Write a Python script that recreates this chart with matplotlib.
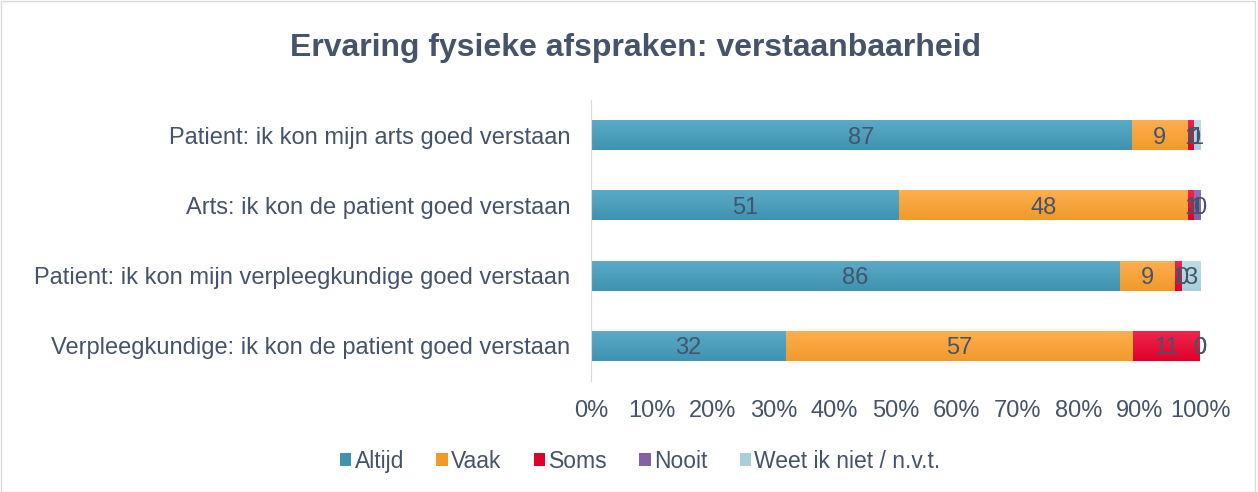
import matplotlib

matplotlib.use("Agg")
import matplotlib.pyplot as plt
import numpy as np
from matplotlib.colors import LinearSegmentedColormap
from matplotlib.patches import Patch

plt.rcParams["font.family"] = ["Liberation Sans", "DejaVu Sans"]

TITLE = "Ervaring fysieke afspraken: verstaanbaarheid"
CATEGORIES = [
    "Patient: ik kon mijn arts goed verstaan",
    "Arts: ik kon de patient goed verstaan",
    "Patient: ik kon mijn verpleegkundige goed verstaan",
    "Verpleegkundige: ik kon de patient goed verstaan",
]
SERIES = ["Altijd", "Vaak", "Soms", "Nooit", "Weet ik niet / n.v.t."]
altijd = [87, 51, 86, 32]
vaak = [9, 48, 9, 57]
soms = [1, 1, 1, 11]
nooit = [0, 1, 0, 0]
weet_niet = [1, 0, 3, 0]
TICKS = [f"{p}%" for p in range(0, 101, 10)]

# top / bottom colour of each series' gradient
COLORS = [("#5BABC7", "#3F93B0"), ("#FFAF50", "#F09A2A"),
          ("#F0264F", "#E0002A"), ("#9573B3", "#8461A4"),
          ("#BDDEE8", "#A9CFDB")]
TEXT = "#44546A"

values = np.array([altijd, vaak, soms, nooit, weet_niet], dtype=float)
shares = values / values.sum(axis=0)

fig = plt.figure(figsize=(12.58, 4.92), dpi=100)
ax = fig.add_axes([0.4698, 0.2256, 0.4841, 0.5711])

grad = np.linspace(0, 1, 64).reshape(-1, 1)
y = np.arange(len(CATEGORIES))[::-1]
left = np.zeros(len(CATEGORIES))
for i, name in enumerate(SERIES):
    top, bottom = COLORS[i]
    cmap = LinearSegmentedColormap.from_list(name, [top, bottom])
    bars = ax.barh(y, shares[i], left=left, height=0.43, color=bottom,
                   linewidth=0)
    for bar in bars:
        x0, y0 = bar.get_x(), bar.get_y()
        w, h = bar.get_width(), bar.get_height()
        if w <= 0:
            continue
        im = ax.imshow(grad, cmap=cmap, aspect="auto", origin="lower",
                       extent=[x0, x0 + w, y0 + h, y0], zorder=bar.get_zorder())
        im.set_clip_path(bar)
    for yy, l, w, v in zip(y, left, shares[i], values[i]):
        ax.text(l + w / 2, yy, f"{int(v)}", ha="center", va="center_baseline",
                fontsize=17, color=TEXT, zorder=5)
    left += shares[i]

ax.set_xlim(0, 1)
ax.set_ylim(-0.5, 3.5)
ax.set_yticks(y)
ax.set_yticklabels(CATEGORIES, fontsize=17, color=TEXT)
ax.set_xticks(np.linspace(0, 1, 11))
ax.set_xticklabels(TICKS, fontsize=17, color=TEXT)
ax.tick_params(axis="both", length=0)
ax.tick_params(axis="y", pad=15)
ax.tick_params(axis="x", pad=14)
for side in ["top", "right", "bottom"]:
    ax.spines[side].set_visible(False)
ax.spines["left"].set_color("#D9D9D9")

fig.text(0.505, 0.902, TITLE, ha="center", va="center", fontsize=23,
         fontweight="bold", color=TEXT)

handles = [Patch(facecolor=c[1], label=s) for c, s in zip(COLORS, SERIES)]
fig.legend(handles=handles, loc="center", bbox_to_anchor=(0.509, 0.063),
           ncol=5, frameon=False, fontsize=16.5, labelcolor=TEXT,
           handlelength=0.5, handleheight=0.5, handletextpad=0.15,
           columnspacing=1.4)

fig.patches.append(plt.Rectangle((0.001, 0.001), 0.997, 0.997, fill=False,
                                 edgecolor="#D9D9D9", linewidth=1,
                                 transform=fig.transFigure))

fig.savefig("out.png", dpi=100, facecolor="white")
